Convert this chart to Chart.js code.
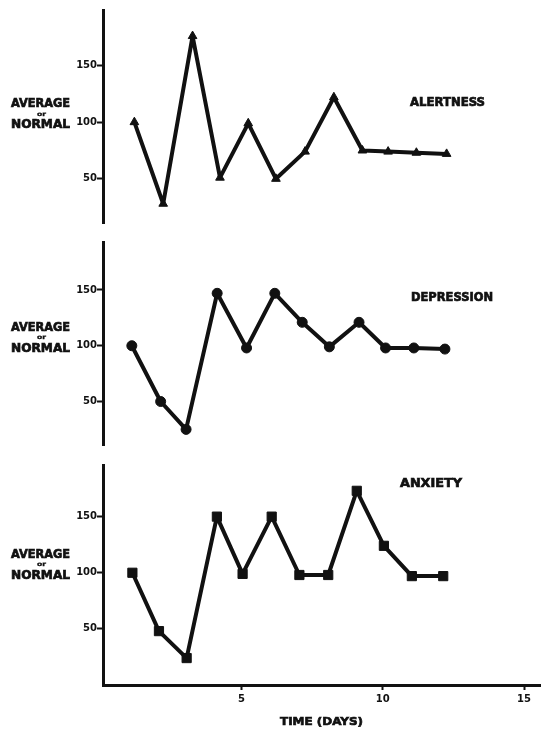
<!DOCTYPE html>
<html>
<head>
<meta charset="utf-8">
<script src="https://cdn.jsdelivr.net/npm/chart.js@4.4.1/dist/chart.umd.min.js"></script>
<style>
  body { margin: 0; background: #fff; }
  canvas { position: absolute; left: 0; }
</style>
</head>
<body>
<canvas id="alertness" width="541" height="233" style="top:0"></canvas>
<canvas id="depression" width="541" height="222" style="top:233px"></canvas>
<canvas id="anxiety" width="541" height="274" style="top:455px"></canvas>
<script>
// values (x = day, y = % of normal)
const alertDays = [1.21, 2.23, 3.27, 4.24, 5.24, 6.22, 7.25, 8.27, 9.28, 10.19, 11.19, 12.26];
const alertValues = [100, 28, 176, 51, 99, 50, 74, 122, 75, 74, 73, 72];
const depressDays = [1.12, 2.14, 3.04, 4.14, 5.18, 6.18, 7.15, 8.11, 9.16, 10.1, 11.1, 12.2];
const depressValues = [100, 50, 25, 147, 98, 147, 121, 99, 121, 98, 98, 97];
const anxDays = [1.14, 2.08, 3.06, 4.13, 5.04, 6.07, 7.05, 8.07, 9.08, 10.04, 11.03, 12.14];
const anxValues = [100, 48, 24, 150, 99, 150, 98, 98, 173, 124, 97, 97];
const yTicks = [50, 100, 150];
const xTicks = [5, 10, 15];
const ink = '#111';
const face = '"DejaVu Sans", "Liberation Sans", sans-serif';

// draw text squeezed/stretched to a given width, a bit heavier than bold
function fitText(ctx, text, x, y, width, size) {
  ctx.save();
  ctx.font = 'bold ' + size + 'px ' + face;
  ctx.textBaseline = 'middle';
  ctx.textAlign = 'left';
  let w = ctx.measureText(text).width;
  ctx.translate(x, y);
  ctx.scale(width / w, 1);
  ctx.fillStyle = ink;
  ctx.strokeStyle = ink;
  ctx.lineWidth = size > 8 ? 0.7 : 0.3;
  ctx.fillText(text, 0, 0);
  ctx.strokeText(text, 0, 0);
  ctx.restore();
}

function makePanel(id, days, values, style, radius, name, namePos, yMin, yMax, pad, withX) {
  let labels = {
    id: 'labels',
    afterDraw(chart) {
      let ctx = chart.ctx;
      let y100 = chart.scales.y.getPixelForValue(100);
      fitText(ctx, 'AVERAGE', 11, y100 - 18, 59, 12);
      fitText(ctx, 'or', 37, y100 - 8, 9, 6);
      fitText(ctx, 'NORMAL', 11, y100 + 3, 59, 12);
      fitText(ctx, name, namePos[0], namePos[1], namePos[2], 12);
      if (withX) {
        fitText(ctx, 'TIME (DAYS)', 280, 267, 83, 11);
      }
    }
  };
  return new Chart(document.getElementById(id), {
    type: 'line',
    data: {
      datasets: [{
        data: days.map((d, i) => ({ x: d, y: values[i] })),
        borderColor: ink,
        backgroundColor: ink,
        borderWidth: 4,
        borderJoinStyle: 'round',
        borderCapStyle: 'round',
        pointStyle: style,
        pointRadius: radius,
        pointBackgroundColor: ink,
        pointBorderColor: ink,
        pointBorderWidth: 1,
        tension: 0,
        clip: false
      }]
    },
    options: {
      responsive: false,
      animation: false,
      layout: { padding: pad, autoPadding: false },
      plugins: { legend: { display: false }, tooltip: { enabled: false } },
      scales: {
        x: {
          type: 'linear',
          min: 0.1,
          max: 15.6,
          display: withX,
          afterBuildTicks: s => { s.ticks = xTicks.map(v => ({ value: v })); },
          afterFit: s => { if (withX) s.height = 44; },
          border: { display: true, color: ink, width: 3 },
          grid: { drawOnChartArea: false, drawTicks: true, tickLength: 5, tickWidth: 2, color: ink },
          ticks: { color: ink, padding: 3, font: { family: face, size: 10, weight: 'bold' } }
        },
        y: {
          min: yMin,
          max: yMax,
          afterBuildTicks: s => { s.ticks = yTicks.map(v => ({ value: v })); },
          afterFit: s => { s.width = 103; },
          border: { display: true, color: ink, width: 3 },
          grid: { drawOnChartArea: false, drawTicks: true, tickLength: 6, tickWidth: 2, color: ink },
          ticks: { color: ink, padding: 0, font: { family: face, size: 10, weight: 'bold' } }
        }
      }
    },
    plugins: [labels]
  });
}

makePanel('alertness', alertDays, alertValues, 'triangle', 5, 'ALERTNESS', [410, 103, 75],
  11, 199, { top: 10, bottom: 10, left: 0, right: 0 }, false);
makePanel('depression', depressDays, depressValues, 'circle', 5, 'DEPRESSION', [411, 65, 82],
  11, 193, { top: 9, bottom: 10, left: 0, right: 0 }, false);
makePanel('anxiety', anxDays, anxValues, 'rect', 6.5, 'ANXIETY', [400, 29, 62],
  0, 196, { top: 10, bottom: 0, left: 0, right: 0 }, true);
</script>
</body>
</html>
